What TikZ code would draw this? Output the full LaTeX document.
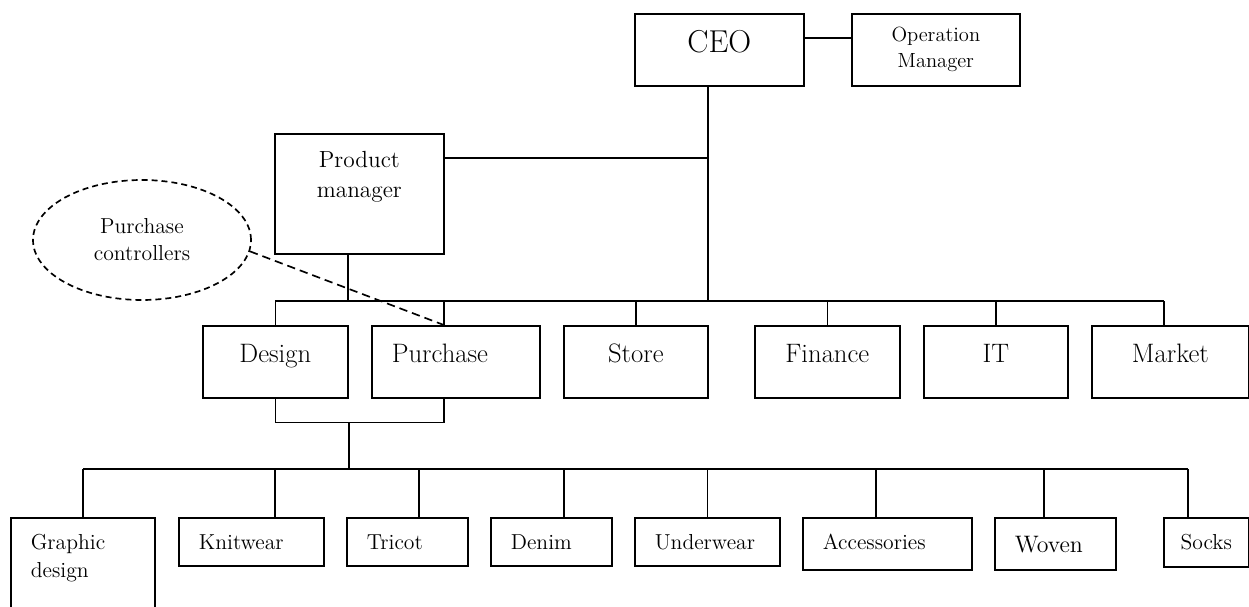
\documentclass[tikz,border=0pt]{standalone}
\usetikzlibrary{shapes.geometric}
\tikzset{
  unit/.style={draw, rectangle, inner sep=0pt, anchor=north west},
  midbox/.style={unit, font=\fontsize{16}{19}\selectfont, text height=22.2pt, text depth=21pt},
  lowbox/.style={unit, inner xsep=12pt, align=left, font=\fontsize{13}{16.6}\selectfont, text height=19.2pt, text depth=9.6pt},
  cloud/.style={ellipse, draw, inner sep=0pt, dash pattern=on 3.6pt off 2.4pt, align=center, font=\fontsize{13}{16.2}\selectfont},
  dashline/.style={dash pattern=on 5pt off 3pt}
}
\begin{document}
\begin{tikzpicture}[x=0.6pt, y=-0.6pt, line width=1pt]
  \useasboundingbox (0,0) rectangle (1249,607);
  \node[unit, minimum width=101.4pt, text height=23.4pt, text depth=19.8pt, font=\fontsize{19}{22}\selectfont] (ceo) at (634,13) {CEO};
  \node[unit, minimum width=100.8pt, minimum height=43.2pt, align=center, font=\fontsize{12.3}{15.6}\selectfont] (opm) at (851,13) {Operation\\Manager};
  \node[unit, minimum width=101.4pt, text height=38.4pt, text depth=33.6pt, align=center, font=\fontsize{14}{18}\selectfont] (pm) at (274,133) {Product\\manager};
  \node[cloud, minimum width=130.8pt, minimum height=72pt] (pc) at (142,240) {Purchase\\controllers};
  \node[midbox, minimum width=87pt] (design) at (202,325) {Design};
  \node[midbox, inner xsep=12pt, text width=76.8pt, align=left] (purchase) at (371,325) {Purchase};
  \node[midbox, minimum width=86.4pt] (store) at (563,325) {Store};
  \node[midbox, minimum width=87pt] (finance) at (754,325) {Finance};
  \node[midbox, minimum width=86.4pt] (it) at (923,325) {IT};
  \node[midbox, minimum width=94.2pt] (market) at (1091,325) {Market};
  \node[lowbox, text width=62.4pt, text depth=66.6pt] (graphic) at (10,517) {Graphic\\design};
  \node[lowbox, text width=63pt] (knit) at (178,517) {Knitwear};
  \node[lowbox, text width=48.6pt] (tricot) at (346,517) {Tricot};
  \node[lowbox, text width=48.6pt] (denim) at (490,517) {Denim};
  \node[lowbox, text width=63pt] (under) at (634,517) {Underwear};
  \node[lowbox, text width=77.4pt, text depth=12pt] (acc) at (802,517) {Accessories};
  \node[lowbox, text width=48.6pt, text height=20.8pt, text depth=10.4pt, font=\fontsize{14.3}{17}\selectfont] (woven) at (994,517) {Woven};
  \node[lowbox, inner xsep=0pt, minimum width=51pt, text depth=10.2pt] (socks) at (1163,517) {Socks};
  \draw([yshift=7.2pt]ceo.east)--([yshift=7.2pt]opm.west);
  \coordinate (ceo-d) at ([xshift=-6.9pt]ceo.south);
  \coordinate (pm-r) at ([yshift=21.6pt]pm.east);
  \coordinate (pm-d) at ([xshift=-6.9pt]pm.south);
  \foreach \n/\s in {design/0,purchase/-7.2,store/0,finance/0,it/0,market/-3.9}
    \draw([xshift=\s pt]\n.north)--++(0,-24)coordinate(\n-up);
  \draw(design-up)--(market-up);
  \draw(ceo-d)--(ceo-d |- design-up);
  \draw(pm-r)--(pm-r -| ceo-d);
  \draw(pm-d)--(pm-d |- design-up);
  \draw(design.south)--++(0,24)-|([xshift=-7.2pt]purchase.south);
  \foreach \n/\s in {graphic/0,knit/14.1,tricot/6.9,denim/7.5,under/0,acc/-6.9,woven/-6.9,socks/-11.1}
    \draw([xshift=\s pt]\n.north)--++(0,-48)coordinate(\n-up);
  \draw(graphic-up)--(socks-up);
  \draw(design.south east)++(0,24)coordinate(dp)--(dp |- graphic-up);
  \draw[dashline](pc.-6)--(purchase-up |- purchase.north);
\end{tikzpicture}
\end{document}
